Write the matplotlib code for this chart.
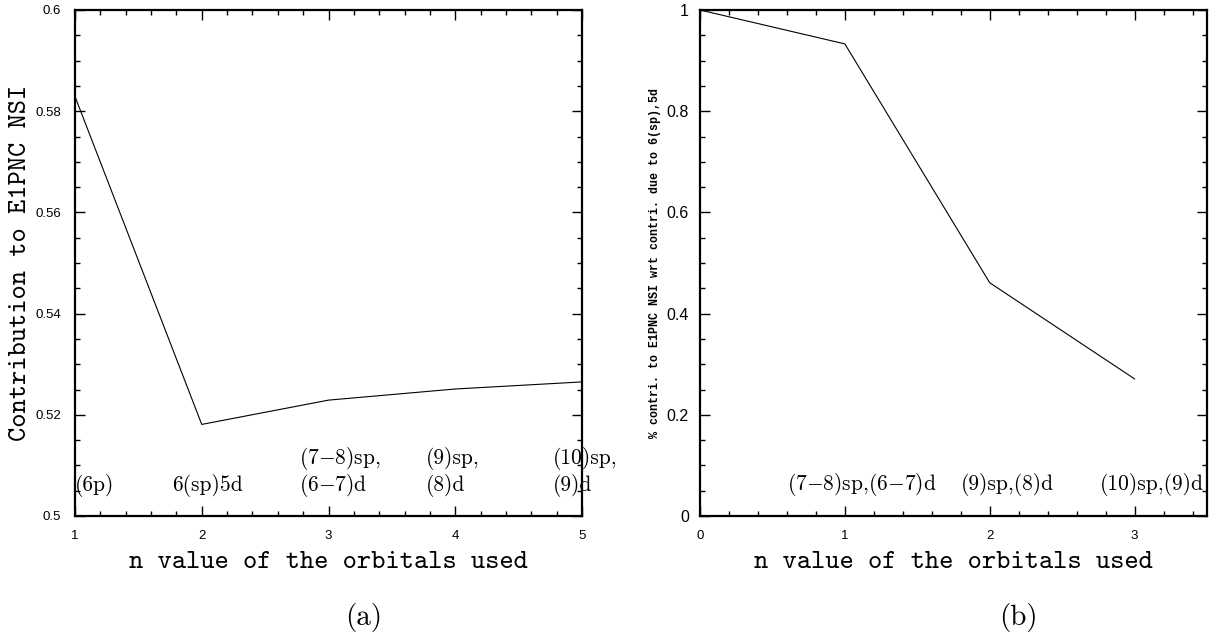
import matplotlib
matplotlib.use("Agg")
import matplotlib.pyplot as plt
from matplotlib.ticker import MultipleLocator, FormatStrFormatter
from matplotlib.transforms import Bbox, TransformedBbox

plt.rcParams['mathtext.fontset'] = 'cm'
plt.rcParams['font.family'] = ['Liberation Sans', 'DejaVu Sans']

# panel (a): contribution vs. n
n_a = [1, 2, 3, 4, 5]
contrib_a = [0.5829, 0.5181, 0.5229, 0.5251, 0.5265]
top_a = ['', '', '(7$-$8)sp,', '(9)sp,', '(10)sp,']
bot_a = ['(6p)', '6(sp)5d', '(6$-$7)d', '(8)d', '(9)d']

# panel (b): fraction relative to 6(sp),5d
n_b = [0, 1, 2, 3]
frac_b = [1.0, 0.933, 0.461, 0.271]
lab_b = ['(7$-$8)sp,(6$-$7)d', '(9)sp,(8)d', '(10)sp,(9)d']

W, H = 1220, 639
fig = plt.figure(figsize=(W / 100, H / 100), dpi=100)
ax1 = fig.add_axes([75 / W, 1 - 516 / H, 507 / W, 506 / H])
ax2 = fig.add_axes([700 / W, 1 - 516 / H, 507 / W, 506 / H])

def style(ax, xmaj, ymaj, ysize, ypad):
    ax.xaxis.set_major_locator(MultipleLocator(xmaj))
    ax.xaxis.set_minor_locator(MultipleLocator(xmaj / 5))
    ax.yaxis.set_major_locator(MultipleLocator(ymaj))
    ax.yaxis.set_minor_locator(MultipleLocator(ymaj / 4))
    ax.yaxis.set_major_formatter(FormatStrFormatter('%g'))
    ax.xaxis.set_major_formatter(FormatStrFormatter('%g'))
    ax.tick_params(which='both', direction='in', top=True, right=True, width=1, color='black')
    ax.tick_params(which='major', length=7)
    ax.tick_params(which='minor', length=3.5)
    ax.tick_params(axis='x', labelsize=9.5, pad=10)
    ax.tick_params(axis='y', labelsize=ysize, pad=ypad)
    for sp in ax.spines.values():
        sp.set_linewidth(1.6)

# (a)
ax1.plot(n_a, contrib_a, color='black', lw=0.8)
ax1.set_xlim(1, 5)
ax1.set_ylim(0.5, 0.6)
style(ax1, 1, 0.02, 9.5, 10)
clip = TransformedBbox(Bbox([[0, 0], [617 / W, 1]]), fig.transFigure)
for n, t, b in zip(n_a, top_a, bot_a):
    x = max(n - 0.23, 1.0)
    for s, y in ((t, 0.5113), (b, 0.5061)):
        if s:
            tx = ax1.text(x, y, s, fontfamily='cmr10', fontsize=15.5, ha='left', va='center',
                          clip_on=True)
            tx.set_clip_box(clip)
ax1.set_xlabel('n value of the orbitals used', fontfamily='cmtt10', fontsize=19.5, va='center')
ax1.xaxis.set_label_coords(0.5, -46 / 506)
ax1.set_ylabel('Contribution to E1PNC NSI', fontfamily='cmtt10', fontsize=19.5, va='center')
ax1.yaxis.set_label_coords(-54 / 507, 0.5)

# (b)
ax2.plot(n_b, frac_b, color='black', lw=0.8)
ax2.set_xlim(0, 3.5)
ax2.set_ylim(0, 1)
style(ax2, 1, 0.2, 11.5, 8)
for n, s in zip(n_b[1:], lab_b):
    ax2.text(n + 0.12, 0.0613, s, fontfamily='cmr10', fontsize=15.5, ha='center', va='center')
ax2.set_xlabel('n value of the orbitals used', fontfamily='cmtt10', fontsize=19.5, va='center')
ax2.xaxis.set_label_coords(0.5, -46 / 506)
ax2.set_ylabel('% contri. to E1PNC NSI wrt contri. due to 6(sp),5d',
               fontfamily='Liberation Mono', fontweight='bold', fontsize=8.4, va='center')
ax2.yaxis.set_label_coords(-45 / 507, 0.5)

fig.text(364 / W, 1 - 618 / H, '(a)', fontfamily='cmr10', fontsize=21, ha='center', va='center')
fig.text(1018 / W, 1 - 618 / H, '(b)', fontfamily='cmr10', fontsize=21, ha='center', va='center')

fig.savefig('out.png', dpi=100)
